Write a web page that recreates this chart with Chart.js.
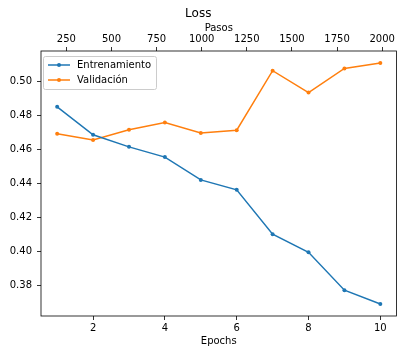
<!DOCTYPE html>
<html>
<head>
<meta charset="utf-8">
<script src="https://cdn.jsdelivr.net/npm/chart.js"></script>
<style>
  html, body { margin: 0; padding: 0; background: #fff; }
  canvas { display: block; }
</style>
</head>
<body>
<canvas id="loss-chart" width="399" height="349"></canvas>
<script>
var epochs = [1, 2, 3, 4, 5, 6, 7, 8, 9, 10];
var trainLoss = [0.4851, 0.4687, 0.4616, 0.4556, 0.4422, 0.4364, 0.4103, 0.3997, 0.3775, 0.3694];
var valLoss = [0.4693, 0.4657, 0.4716, 0.4759, 0.4697, 0.4714, 0.5063, 0.4935, 0.5076, 0.5108];
var stepsPerEpoch = 199;

var epochTicks = [2, 4, 6, 8, 10];
var stepTicks = [250, 500, 750, 1000, 1250, 1500, 1750, 2000];
var lossTicks = [0.38, 0.40, 0.42, 0.44, 0.46, 0.48, 0.50];

var FONT = 'DejaVu Sans';

// 5% margins around the data, like the usual autoscale
function padded(lo, hi) {
    var m = (hi - lo) * 0.05;
    return [lo - m, hi + m];
}

var xRange = padded(Math.min.apply(null, epochs), Math.max.apply(null, epochs));
var allLoss = trainLoss.concat(valLoss);
var yRange = padded(Math.min.apply(null, allLoss), Math.max.apply(null, allLoss));

function fixedTicks(values) {
    return function (scale) {
        scale.ticks = values.map(function (v) { return { value: v }; });
    };
}

// fixed box size, and no extra room reserved for overhanging labels
function fixedSize(prop, size) {
    return function (s) {
        s[prop] = size;
        s.paddingLeft = 0;
        s.paddingRight = 0;
        s.paddingTop = 0;
        s.paddingBottom = 0;
    };
}

var tickGrid = {
    drawOnChartArea: false,
    drawTicks: true,
    tickLength: 4,
    color: '#000',
    lineWidth: 0.8
};

// plot frame
var frame = {
    id: 'frame',
    afterDatasetsDraw: function (chart) {
        var a = chart.chartArea, ctx = chart.ctx;
        ctx.save();
        ctx.strokeStyle = '#000';
        ctx.lineWidth = 0.8;
        ctx.strokeRect(a.left, a.top, a.right - a.left, a.bottom - a.top);
        ctx.restore();
    }
};

// legend with line + marker samples, upper left
var legendBox = {
    id: 'legendBox',
    afterDraw: function (chart) {
        var a = chart.chartArea, ctx = chart.ctx;
        var x = a.left + 2, y = a.top + 5, w = 113, h = 33;
        ctx.save();
        ctx.beginPath();
        ctx.roundRect(x + 0.5, y + 0.5, w, h, 2);
        ctx.fillStyle = 'rgba(255,255,255,0.8)';
        ctx.fill();
        ctx.strokeStyle = '#cccccc';
        ctx.lineWidth = 1;
        ctx.stroke();
        chart.data.datasets.forEach(function (ds, i) {
            var ry = y + 9 + i * 15;
            ctx.strokeStyle = ds.borderColor;
            ctx.lineWidth = 1.5;
            ctx.beginPath();
            ctx.moveTo(x + 5, ry);
            ctx.lineTo(x + 27, ry);
            ctx.stroke();
            ctx.fillStyle = ds.borderColor;
            ctx.beginPath();
            ctx.arc(x + 16, ry, 2, 0, Math.PI * 2);
            ctx.fill();
            ctx.fillStyle = '#000';
            ctx.font = '10px "' + FONT + '"';
            ctx.textBaseline = 'middle';
            ctx.textAlign = 'left';
            ctx.fillText(ds.label, x + 34, ry);
        });
        ctx.restore();
    }
};

function series(label, values, color) {
    return {
        label: label,
        data: epochs.map(function (e, i) { return { x: e, y: values[i] }; }),
        borderColor: color,
        backgroundColor: color,
        borderWidth: 1.5,
        pointRadius: 2,
        pointBorderWidth: 0,
        pointBackgroundColor: color,
        tension: 0
    };
}

new Chart(document.getElementById('loss-chart'), {
    type: 'line',
    data: {
        datasets: [
            series('Entrenamiento', trainLoss, '#1f77b4'),
            series('Validación', valLoss, '#ff7f0e')
        ]
    },
    options: {
        responsive: false,
        animation: false,
        devicePixelRatio: 1,
        layout: { autoPadding: false, padding: { left: 0, right: 2.5, top: 0, bottom: 0 } },
        plugins: {
            legend: { display: false },
            tooltip: { enabled: false },
            title: {
                display: true,
                text: 'Loss',
                color: '#000',
                font: { family: FONT, size: 12, weight: 'normal', lineHeight: 1.2 },
                padding: { top: 7, bottom: 0 }
            }
        },
        scales: {
            x: {
                type: 'linear',
                position: 'bottom',
                min: xRange[0],
                max: xRange[1],
                afterBuildTicks: fixedTicks(epochTicks),
                afterFit: fixedSize('height', 33),
                border: { display: false },
                grid: tickGrid,
                ticks: {
                    color: '#000',
                    padding: 2,
                    maxRotation: 0,
                    font: { family: FONT, size: 10 },
                    callback: function (v) { return String(v); }
                },
                title: {
                    display: true,
                    text: 'Epochs',
                    color: '#000',
                    font: { family: FONT, size: 10 },
                    padding: { top: 0, bottom: 2 }
                }
            },
            x2: {
                type: 'linear',
                position: 'top',
                min: xRange[0] * stepsPerEpoch,
                max: xRange[1] * stepsPerEpoch,
                afterBuildTicks: fixedTicks(stepTicks),
                afterFit: fixedSize('height', 29.6),
                border: { display: false },
                grid: tickGrid,
                ticks: {
                    color: '#000',
                    padding: 2,
                    maxRotation: 0,
                    font: { family: FONT, size: 10 },
                    callback: function (v) { return String(v); }
                },
                title: {
                    display: true,
                    text: 'Pasos',
                    color: '#000',
                    font: { family: FONT, size: 10 },
                    padding: { top: 1, bottom: 0 }
                }
            },
            y: {
                type: 'linear',
                position: 'left',
                min: yRange[0],
                max: yRange[1],
                afterBuildTicks: fixedTicks(lossTicks),
                afterFit: fixedSize('width', 41),
                border: { display: false },
                grid: tickGrid,
                ticks: {
                    color: '#000',
                    padding: 5,
                    font: { family: FONT, size: 10 },
                    callback: function (v) { return v.toFixed(2); }
                }
            }
        }
    },
    plugins: [frame, legendBox]
});
</script>
</body>
</html>
